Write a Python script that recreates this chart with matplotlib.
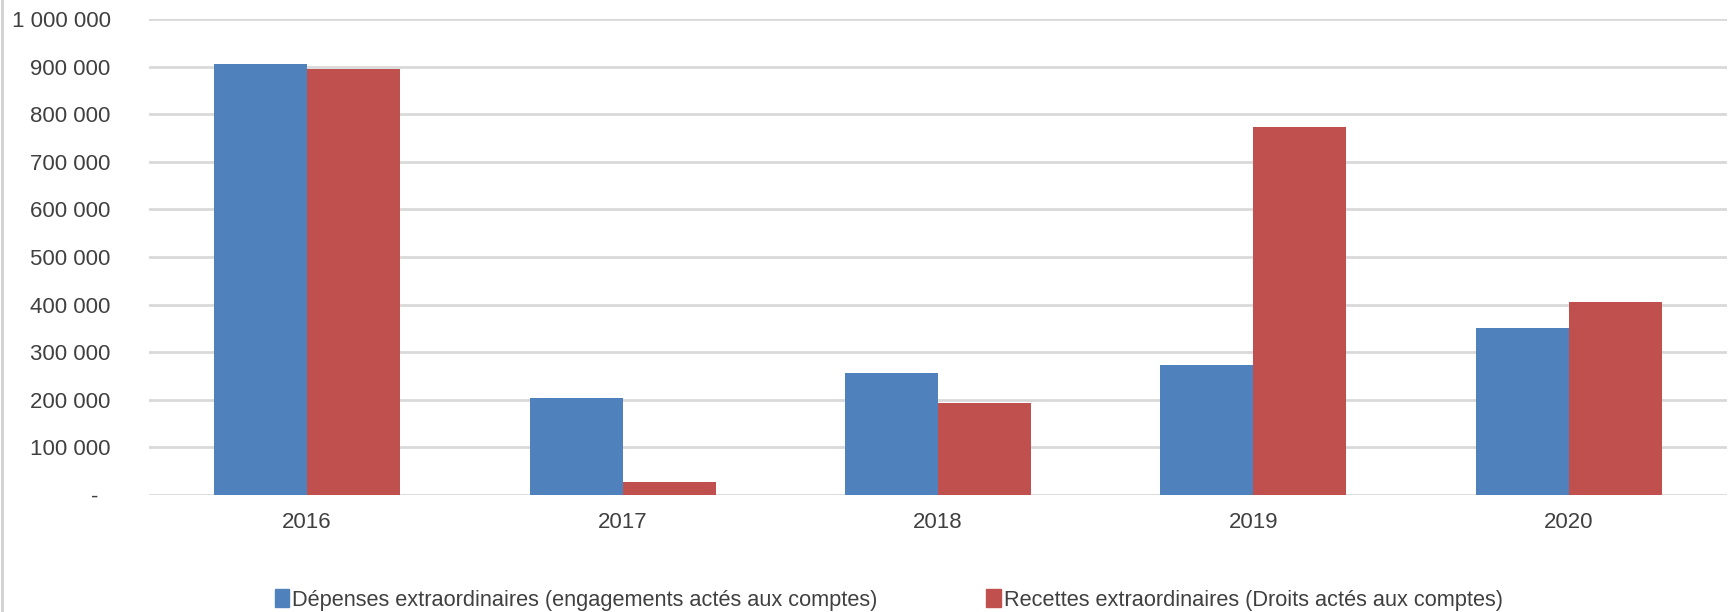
import numpy as np
import matplotlib.pyplot as plt
from matplotlib.lines import Line2D
from matplotlib.patches import Patch

plt.rcParams['font.family'] = ['Liberation Sans', 'DejaVu Sans']

# Données
annees = ['2016', '2017', '2018', '2019', '2020']
depenses = [905000, 203000, 257000, 274000, 350000]
recettes = [894000, 28000, 193000, 774000, 405000]
graduations = [0, 100000, 200000, 300000, 400000, 500000,
               600000, 700000, 800000, 900000, 1000000]

bleu = '#4F81BD'
rouge = '#C0504D'
gris_texte = '#404040'

def format_fr(v):
    if v == 0:
        return '-  '
    return f'{int(v):,}'.replace(',', ' ')

fig = plt.figure(figsize=(17.3, 6.12), dpi=100)
ax = fig.add_axes([0.0864, 0.1912, 0.9116, 0.7778])

x = np.arange(len(annees))
larg = 0.295
ax.bar(x - larg / 2, depenses, larg, color=bleu, zorder=3,
       label='Dépenses extraordinaires (engagements actés aux comptes)')
ax.bar(x + larg / 2, recettes, larg, color=rouge, zorder=3,
       label='Recettes extraordinaires (Droits actés aux comptes)')

ax.set_xlim(-0.5, len(annees) - 0.5)
ax.set_ylim(0, 1000000)
ax.set_yticks(graduations)
ax.set_yticklabels([format_fr(v) for v in graduations])
ax.set_xticks(x)
ax.set_xticklabels(annees)

ax.grid(axis='y', color='#d9d9d9', linewidth=2, zorder=0)
ax.tick_params(axis='y', length=0, pad=28, labelsize=16, labelcolor=gris_texte)
ax.tick_params(axis='x', length=0, pad=12, labelsize=16, labelcolor=gris_texte)
for s in ax.spines.values():
    s.set_visible(False)
ax.set_axisbelow(True)

# bordure gauche du cadre du graphique
fig.add_artist(Line2D([0.0012, 0.0012], [0, 1], transform=fig.transFigure,
                      color='#d0d0d0', linewidth=2))

poignees = [Patch(color=bleu), Patch(color=rouge)]
fig.legend(poignees,
           ['Dépenses extraordinaires (engagements actés aux comptes)',
            'Recettes extraordinaires (Droits actés aux comptes)'],
           loc='center', bbox_to_anchor=(0.5137, 0.02), ncol=2, frameon=False,
           fontsize=15.7, handlelength=0.65, handleheight=0.9, handletextpad=0.15,
           columnspacing=5.0, labelcolor=gris_texte)

fig.savefig('out.png', dpi=100)
